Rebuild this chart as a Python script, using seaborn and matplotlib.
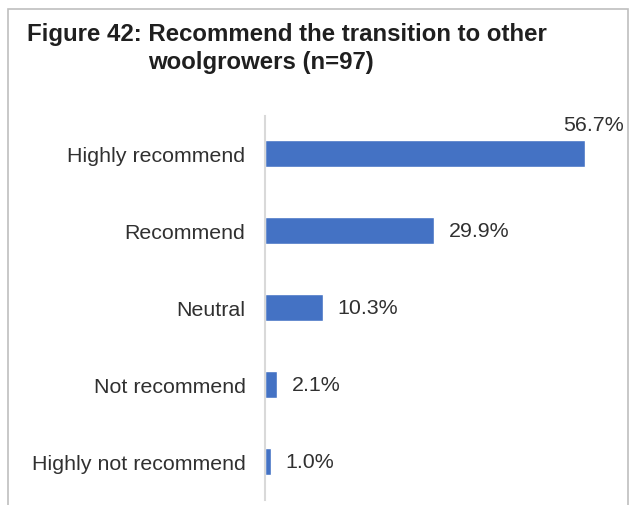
import matplotlib
matplotlib.use("Agg")
import matplotlib.pyplot as plt
import seaborn as sns
import pandas as pd
from matplotlib.patches import Rectangle

# ── data ────────────────────────────────────────────────────────────────
categories = ["Highly recommend", "Recommend", "Neutral",
              "Not recommend", "Highly not recommend"]
shares = [56.7, 29.9, 10.3, 2.1, 1.0]
title_line1 = "Figure 42: Recommend the transition to other"
title_line2 = "woolgrowers (n=97)"

df = pd.DataFrame({"category": categories, "share": shares})

sns.set_style("white")
plt.rcParams["font.family"] = ["Liberation Sans", "DejaVu Sans"]

BAR = "#4472C4"
TXT = "#303030"
GRID = "#D9D9D9"
FS = 15.4

fig = plt.figure(figsize=(6.35, 5.06), dpi=100)
ax = fig.add_axes([265 / 635, 5.5 / 506, 363 / 635, 384 / 506])

sns.barplot(data=df, x="share", y="category", orient="h", color=BAR,
            width=0.35, saturation=1, ax=ax)

xmax = 363 / 5.644
ax.set_xlim(0, xmax)
ax.set_ylim(len(categories) - 0.5, -0.5)

for i, v in enumerate(shares):
    if v > 50:
        # no room on the right: put the label above the bar end
        ax.text(xmax - 0.8, i - 0.38, f"{v:.1f}%", ha="right", va="center",
                fontsize=FS, color=TXT)
    else:
        ax.text(v + 2.6, i, f"{v:.1f}%", ha="left", va="center",
                fontsize=FS, color=TXT)

ax.set_xlabel("")
ax.set_ylabel("")
ax.set_xticks([])
ax.tick_params(axis="y", length=0, pad=14, labelsize=FS, labelcolor=TXT)
for s in ["top", "right", "bottom"]:
    ax.spines[s].set_visible(False)
ax.spines["left"].set_color(GRID)
ax.spines["left"].set_linewidth(1.5)

# outer frame (open at the bottom)
fig.add_artist(Rectangle((8 / 635, -0.1), 620 / 635, 1.1 - 10 / 506,
                         transform=fig.transFigure, fill=False,
                         edgecolor="#BFBFBF", linewidth=1.2, clip_on=False))

fig.text(27 / 635, 1 - 34 / 506, title_line1, fontsize=17.3,
         fontweight="bold", color="#1F1F1F", va="center", ha="left")
fig.text(148 / 635, 1 - 62 / 506, title_line2, fontsize=17.3,
         fontweight="bold", color="#1F1F1F", va="center", ha="left")

fig.savefig("out.png", dpi=100)
plt.close(fig)
